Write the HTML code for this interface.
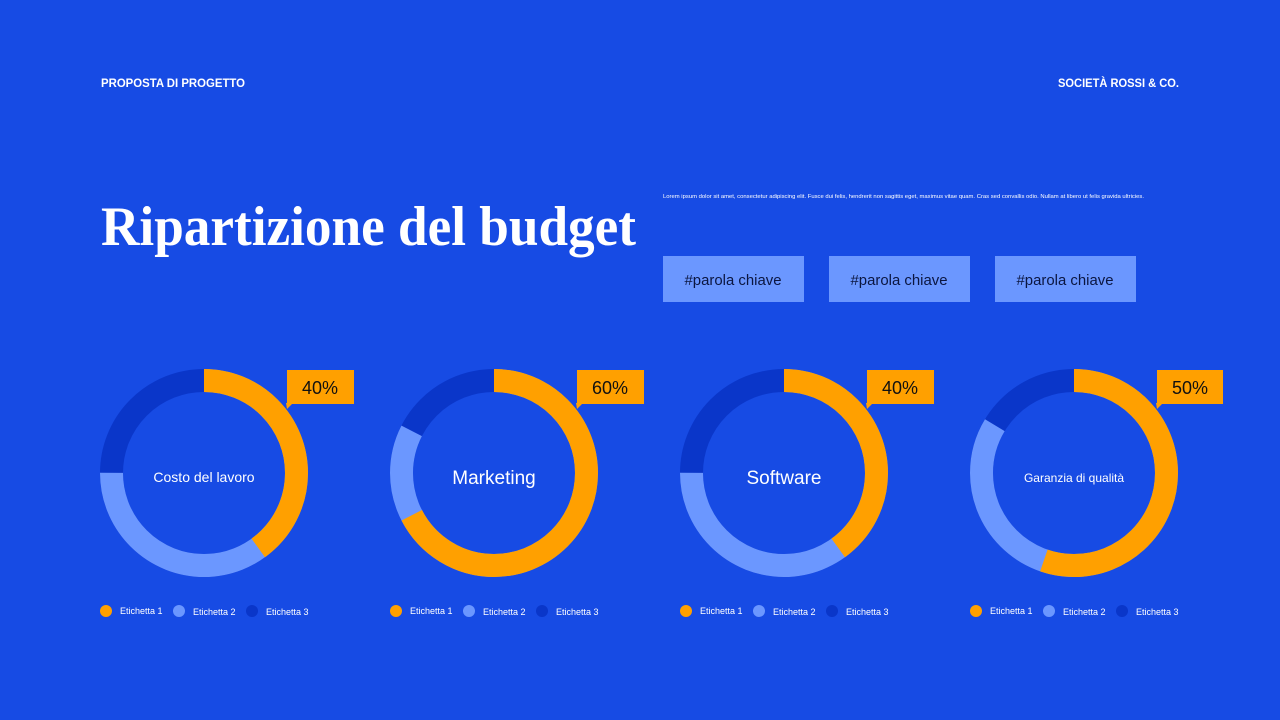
<!DOCTYPE html>
<html><head><meta charset="utf-8"><style>
html,body{margin:0;padding:0;background:#174BE4;}
svg{display:block}
text{font-family:"Liberation Sans",sans-serif}
</style></head><body>
<svg width="1280" height="720" viewBox="0 0 1280 720" xmlns="http://www.w3.org/2000/svg">
<rect width="1280" height="720" fill="#174BE4"/>
<text x="101" y="87" font-size="11.5" font-weight="bold" fill="#fff" textLength="144" lengthAdjust="spacingAndGlyphs">PROPOSTA DI PROGETTO</text>
<text x="1058" y="87" font-size="11.5" font-weight="bold" fill="#fff" textLength="121" lengthAdjust="spacingAndGlyphs">SOCIETÀ ROSSI &amp; CO.</text>
<text x="101" y="245" font-size="56" font-weight="bold" fill="#fff" style="font-family:'Liberation Serif',serif" textLength="535" lengthAdjust="spacingAndGlyphs">Ripartizione del budget</text>
<text x="663" y="198" font-size="5.6" fill="#fff" textLength="481" lengthAdjust="spacingAndGlyphs">Lorem ipsum dolor sit amet, consectetur adipiscing elit. Fusce dui felis, hendrerit non sagittis eget, maximus vitae quam. Cras sed convallis odio. Nullam at libero ut felis gravida ultricies.</text>
<g font-size="15" fill="#0B1640" text-anchor="middle">
<rect x="663" y="256" width="141" height="46" fill="#6B97FF"/><text x="733" y="285" textLength="97" lengthAdjust="spacingAndGlyphs">#parola chiave</text>
<rect x="829" y="256" width="141" height="46" fill="#6B97FF"/><text x="899" y="285" textLength="97" lengthAdjust="spacingAndGlyphs">#parola chiave</text>
<rect x="995" y="256" width="141" height="46" fill="#6B97FF"/><text x="1065" y="285" textLength="97" lengthAdjust="spacingAndGlyphs">#parola chiave</text>
</g>
<g fill="none" stroke-width="23">
<g transform="translate(204,473) rotate(-90)">
<circle r="92.5" stroke="#0A36C9"/>
<circle r="92.5" stroke="#6B97FF" stroke-dasharray="435.9 581.19"/>
<circle r="92.5" stroke="#FFA000" stroke-dasharray="232.5 581.19"/>
</g>
<g transform="translate(494,473) rotate(-90)">
<circle r="92.5" stroke="#0A36C9"/>
<circle r="92.5" stroke="#6B97FF" stroke-dasharray="479.5 581.19"/>
<circle r="92.5" stroke="#FFA000" stroke-dasharray="391.8 581.19"/>
</g>
<g transform="translate(784,473) rotate(-90)">
<circle r="92.5" stroke="#0A36C9"/>
<circle r="92.5" stroke="#6B97FF" stroke-dasharray="435.9 581.19"/>
<circle r="92.5" stroke="#FFA000" stroke-dasharray="232.5 581.19"/>
</g>
<g transform="translate(1074,473) rotate(-90)">
<circle r="92.5" stroke="#0A36C9"/>
<circle r="92.5" stroke="#6B97FF" stroke-dasharray="486 581.19"/>
<circle r="92.5" stroke="#FFA000" stroke-dasharray="321.2 581.19"/>
</g>
</g>
<g fill="#fff" text-anchor="middle">
<text x="204" y="482" font-size="14">Costo del lavoro</text>
<text x="494" y="484" font-size="19">Marketing</text>
<text x="784" y="484" font-size="19">Software</text>
<text x="1074" y="482" font-size="12">Garanzia di qualità</text>
</g>
<g fill="#FFA000">
<rect x="287" y="370" width="67" height="34"/><polygon points="286,403 293,403 287,409"/>
<rect x="577" y="370" width="67" height="34"/><polygon points="576,403 583,403 577,409"/>
<rect x="867" y="370" width="67" height="34"/><polygon points="866,403 873,403 867,409"/>
<rect x="1157" y="370" width="66" height="34"/><polygon points="1156,403 1163,403 1157,409"/>
</g>
<g font-size="18" fill="#111" text-anchor="middle">
<text x="320" y="394">40%</text><text x="610" y="394">60%</text><text x="900" y="394">40%</text><text x="1190" y="394">50%</text>
</g>
<g font-size="9" fill="#fff">
<g transform="translate(0,0)">
<circle cx="106" cy="611" r="6" fill="#FFA000"/><text x="120" y="614">Etichetta 1</text>
<circle cx="179" cy="611" r="6" fill="#6B97FF"/><text x="193" y="615">Etichetta 2</text>
<circle cx="252" cy="611" r="6" fill="#0A36C9"/><text x="266" y="615">Etichetta 3</text>
</g>
<g transform="translate(290,0)">
<circle cx="106" cy="611" r="6" fill="#FFA000"/><text x="120" y="614">Etichetta 1</text>
<circle cx="179" cy="611" r="6" fill="#6B97FF"/><text x="193" y="615">Etichetta 2</text>
<circle cx="252" cy="611" r="6" fill="#0A36C9"/><text x="266" y="615">Etichetta 3</text>
</g>
<g transform="translate(580,0)">
<circle cx="106" cy="611" r="6" fill="#FFA000"/><text x="120" y="614">Etichetta 1</text>
<circle cx="179" cy="611" r="6" fill="#6B97FF"/><text x="193" y="615">Etichetta 2</text>
<circle cx="252" cy="611" r="6" fill="#0A36C9"/><text x="266" y="615">Etichetta 3</text>
</g>
<g transform="translate(870,0)">
<circle cx="106" cy="611" r="6" fill="#FFA000"/><text x="120" y="614">Etichetta 1</text>
<circle cx="179" cy="611" r="6" fill="#6B97FF"/><text x="193" y="615">Etichetta 2</text>
<circle cx="252" cy="611" r="6" fill="#0A36C9"/><text x="266" y="615">Etichetta 3</text>
</g>
</g>
</svg>
</body></html>
